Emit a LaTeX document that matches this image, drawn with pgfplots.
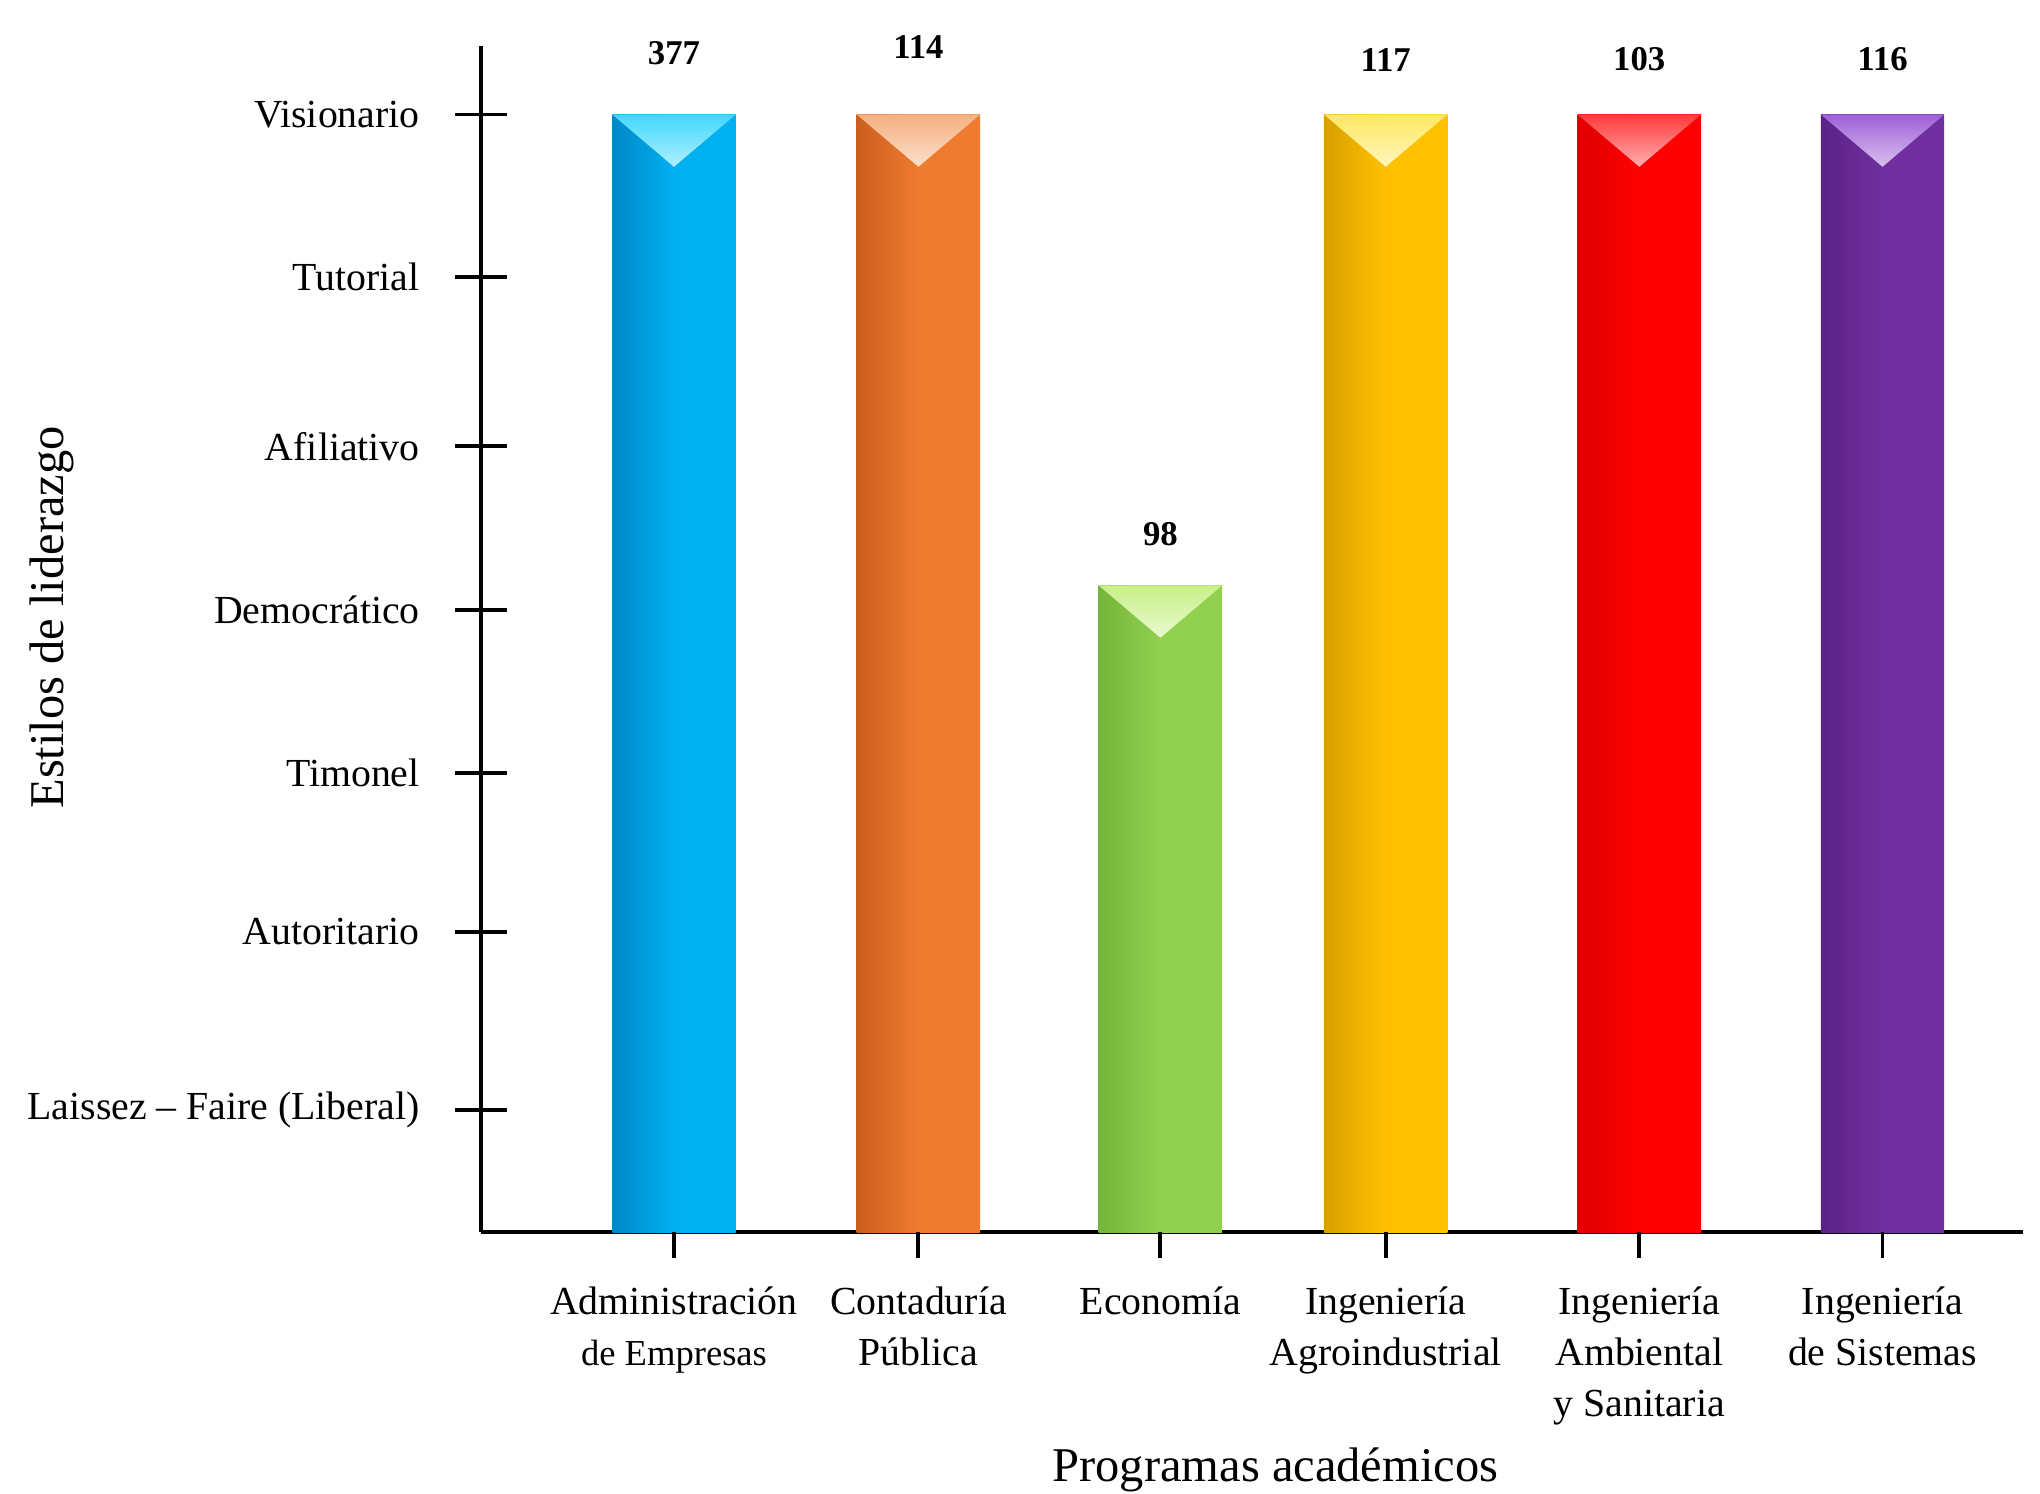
\documentclass[border=0pt]{standalone}
\usepackage{fontspec}
\setmainfont{Liberation Serif}
\usepackage{pgfplots}
\pgfplotsset{compat=1.18}

% Office-like bar colours: base, darker left edge, lighter top bevel
\definecolor{cyB}{HTML}{00B0F0}\definecolor{cyD}{HTML}{0088C8}\definecolor{cyL}{HTML}{40D8FF}
\definecolor{orB}{HTML}{EE7B30}\definecolor{orD}{HTML}{CC5E1E}\definecolor{orL}{HTML}{F5B080}
\definecolor{grB}{HTML}{92D050}\definecolor{grD}{HTML}{76B43A}\definecolor{grL}{HTML}{C8F088}
\definecolor{goB}{HTML}{FFC000}\definecolor{goD}{HTML}{D8A000}\definecolor{goL}{HTML}{FFE860}
\definecolor{reB}{HTML}{FF0000}\definecolor{reD}{HTML}{DD0000}\definecolor{reL}{HTML}{FF3A3A}
\definecolor{puB}{HTML}{7030A0}\definecolor{puD}{HTML}{5A2286}\definecolor{puL}{HTML}{A060D8}

\pgfplotsset{
  bar/.style={ybar, bar shift=0pt, bar width=0.51, draw=none,
    every node near coord/.append style={font=\fontsize{7.6}{9}\selectfont\bfseries}},
  bevel/.style={draw=none, forget plot, top color=#1, bottom color=#1!40!white}
}

\begin{document}
\begin{tikzpicture}
\begin{axis}[
  name=main,
  scale only axis, width=11.85cm, height=9.12cm,
  xmin=0, xmax=6.371, ymin=0, ymax=7.261,
  enlargelimits=false, clip=false,
  axis x line=bottom, axis y line=left,
  axis line style={-, line width=0.85pt},
  every outer x axis line/.append style={-},
  every outer y axis line/.append style={-},
  tick align=center, major tick length=0.4cm,
  ytick style={line width=0.85pt, black},
  xtick style={draw=none},
  ytick={0.748,1.839,2.811,3.806,4.809,5.844,6.839},
  yticklabels={Laissez -- Faire (Liberal), Autoritario, Timonel, Democrático, Afiliativo, Tutorial, Visionario},
  yticklabel style={font=\fontsize{8.7}{11}\selectfont, anchor=east, xshift=-0.15cm},
  xtick={0.796,1.806,2.806,3.737,4.785,5.790},
  xticklabels={{Administración\\{\fontsize{8}{11}\selectfont de Empresas}}, {Contaduría\\Pública}, {Economía},
    {Ingeniería\\Agroindustrial}, {Ingeniería\\Ambiental\\y Sanitaria}, {Ingeniería\\de Sistemas}},
  xticklabel style={font=\fontsize{8.7}{11.1}\selectfont, align=center, anchor=north, yshift=-0.1cm},
  xlabel={Programas académicos},
  ylabel={Estilos de liderazgo},
  xlabel style={font=\fontsize{10.6}{12}\selectfont, at={(axis description cs:0.515,-0.2)}, anchor=center},
  ylabel style={font=\fontsize{10.6}{12}\selectfont, at={(axis description cs:-0.2785,0.518)}, anchor=center},
]
\addplot[bar, left color=cyD, right color=cyB, middle color=cyB, nodes near coords={377},
  every node near coord/.append style={yshift=0.26cm}] coordinates {(0.796,6.839)};
\addplot[bevel=cyL] coordinates {(0.541,6.839) (1.051,6.839) (0.796,6.519)} -- cycle;

\addplot[bar, left color=orD, right color=orB, middle color=orB, nodes near coords={114},
  every node near coord/.append style={yshift=0.31cm}] coordinates {(1.806,6.839)};
\addplot[bevel=orL] coordinates {(1.551,6.839) (2.061,6.839) (1.806,6.519)} -- cycle;

\addplot[bar, left color=grD, right color=grB, middle color=grB, nodes near coords={98},
  every node near coord/.append style={yshift=0.18cm}] coordinates {(2.806,3.957)};
\addplot[bevel=grL] coordinates {(2.551,3.957) (3.061,3.957) (2.806,3.637)} -- cycle;

\addplot[bar, left color=goD, right color=goB, middle color=goB, nodes near coords={117},
  every node near coord/.append style={yshift=0.21cm}] coordinates {(3.737,6.839)};
\addplot[bevel=goL] coordinates {(3.482,6.839) (3.992,6.839) (3.737,6.519)} -- cycle;

\addplot[bar, left color=reD, right color=reB, middle color=reB, nodes near coords={103},
  every node near coord/.append style={yshift=0.21cm}] coordinates {(4.785,6.839)};
\addplot[bevel=reL] coordinates {(4.530,6.839) (5.040,6.839) (4.785,6.519)} -- cycle;

\addplot[bar, left color=puD, right color=puB, middle color=puB, nodes near coords={116},
  every node near coord/.append style={yshift=0.21cm}] coordinates {(5.790,6.839)};
\addplot[bevel=puL] coordinates {(5.535,6.839) (6.045,6.839) (5.790,6.519)} -- cycle;
\end{axis}

% second axis only for the short outward x ticks
\begin{axis}[
  scale only axis, width=11.85cm, height=9.12cm,
  xmin=0, xmax=6.371, ymin=0, ymax=7.261,
  axis x line=bottom, axis y line=none,
  x axis line style={draw=none},
  tick align=outside, major tick length=0.2cm,
  xtick style={line width=0.85pt, black},
  xtick={0.796,1.806,2.806,3.737,4.785,5.790},
  xticklabels={{},{},{},{},{},{}}, ytick=\empty,
]
\end{axis}

\pgfresetboundingbox
\path[use as bounding box] (main.south west) ++(-3.70cm,-2.01cm) rectangle ++(15.68cm,11.48cm);
\end{tikzpicture}
\end{document}
